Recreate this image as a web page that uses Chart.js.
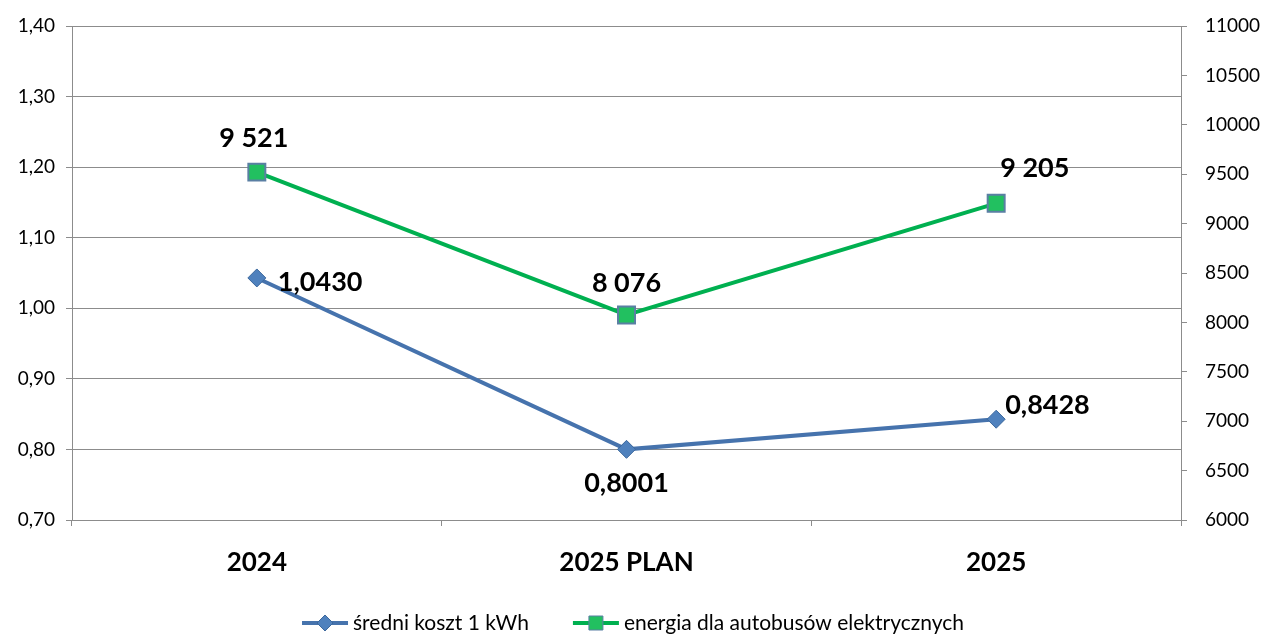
<!DOCTYPE html>
<html>
<head>
<meta charset="utf-8">
<script src="https://cdn.jsdelivr.net/npm/chart.js@4"></script>
<style>
  html, body { margin: 0; padding: 0; background: #ffffff; }
  #wrap { width: 1266px; height: 635px; }
</style>
</head>
<body>
<div id="wrap"><canvas id="myChart" width="1266" height="635"></canvas></div>
<script>
// chart data
const categories = ['2024', '2025 PLAN', '2025'];
const kosztLabel = 'średni koszt 1 kWh';
const kosztValues = [1.0430, 0.8001, 0.8428];
const energiaLabel = 'energia dla autobusów elektrycznych';
const energiaValues = [9521, 8076, 9205];

const FONT = 'Lato, "Open Sans", sans-serif';
const GRID = '#8c8c8c';
const BLUE_LINE = '#4673ad';
const BLUE_MARK = '#4f81bd';
const GREEN_LINE = '#00b050';
const GREEN_MARK = '#22c060';
const GREEN_BORDER = '#5a7fa3';

// number formatting in Polish style
function fmtKoszt(v) { return v.toFixed(4).replace('.', ','); }
function fmtEnergia(v) { return String(Math.round(v)).replace(/\B(?=(\d{3})+(?!\d))/g, ' '); }

// label placement per point: dx, dy from the marker, text alignment
const labelPlacement = [
    [ {dx: 21, dy: 4, align: 'left'}, {dx: 0, dy: 34, align: 'center'}, {dx: 9, dy: -14, align: 'left'} ],
    [ {dx: -3, dy: -34, align: 'center'}, {dx: 0, dy: -32, align: 'center'}, {dx: 4, dy: -35, align: 'left'} ]
];

const valueLabels = {
    id: 'valueLabels',
    afterDatasetsDraw(chart) {
        const ctx = chart.ctx;
        ctx.save();
        ctx.font = 'bold 27px ' + FONT;
        ctx.fillStyle = '#000000';
        ctx.textBaseline = 'middle';
        chart.data.datasets.forEach((ds, di) => {
            const meta = chart.getDatasetMeta(di);
            meta.data.forEach((pt, i) => {
                const p = labelPlacement[di][i];
                const txt = di === 0 ? fmtKoszt(ds.data[i]) : fmtEnergia(ds.data[i]);
                ctx.textAlign = p.align;
                ctx.fillText(txt, pt.x + p.dx, pt.y + p.dy);
            });
        });
        ctx.restore();
    }
};

// legend drawn like the office one: line with marker, then text
const bottomLegend = {
    id: 'bottomLegend',
    afterDraw(chart) {
        const ctx = chart.ctx;
        const y = 623;
        ctx.save();
        ctx.font = '21px ' + FONT;
        ctx.textBaseline = 'middle';
        ctx.textAlign = 'left';
        const items = chart.data.datasets;
        const sampleW = 46, gap = 5, between = 44;
        let widths = items.map(ds => sampleW + gap + ctx.measureText(ds.label).width);
        let total = widths.reduce((a, b) => a + b, 0) + between * (items.length - 1);
        let x = (chart.width - total) / 2;
        items.forEach((ds, i) => {
            ctx.strokeStyle = ds.borderColor;
            ctx.lineWidth = 4;
            ctx.beginPath();
            ctx.moveTo(x, y);
            ctx.lineTo(x + sampleW, y);
            ctx.stroke();
            const cx = x + sampleW / 2;
            ctx.fillStyle = ds.pointBackgroundColor;
            ctx.strokeStyle = ds.pointBorderColor;
            ctx.lineWidth = 1;
            ctx.beginPath();
            if (ds.pointStyle === 'rectRot') {
                ctx.moveTo(cx, y - 8); ctx.lineTo(cx + 8, y); ctx.lineTo(cx, y + 8); ctx.lineTo(cx - 8, y);
                ctx.closePath();
            } else {
                ctx.rect(cx - 7, y - 7, 14, 14);
            }
            ctx.fill();
            ctx.stroke();
            ctx.fillStyle = '#000000';
            ctx.fillText(ds.label, x + sampleW + gap, y);
            x += widths[i] + between;
        });
        ctx.restore();
    }
};

// y axes: fixed width, no extra overhang padding
function fixY(width) {
    return function (scale) {
        scale.width = width;
        scale.paddingTop = 0;
        scale.paddingBottom = 0;
    };
}

const ctx = document.getElementById('myChart').getContext('2d');
const myChart = new Chart(ctx, {
    type: 'line',
    data: {
        labels: categories,
        datasets: [
            {
                label: kosztLabel,
                data: kosztValues,
                yAxisID: 'y',
                borderColor: BLUE_LINE,
                borderWidth: 4,
                pointStyle: 'rectRot',
                pointRadius: 9,
                pointBackgroundColor: BLUE_MARK,
                pointBorderColor: '#3b679c',
                pointBorderWidth: 1,
                tension: 0,
                fill: false
            },
            {
                label: energiaLabel,
                data: energiaValues,
                yAxisID: 'y2',
                borderColor: GREEN_LINE,
                borderWidth: 4,
                pointStyle: 'rect',
                pointRadius: 12,
                pointBackgroundColor: GREEN_MARK,
                pointBorderColor: GREEN_BORDER,
                pointBorderWidth: 2,
                tension: 0,
                fill: false
            }
        ]
    },
    options: {
        responsive: false,
        animation: false,
        layout: { padding: { top: 26, bottom: 55, left: 0, right: 0 } },
        plugins: {
            legend: { display: false },
            tooltip: { enabled: false }
        },
        scales: {
            x: {
                offset: true,
                grid: { offset: true, drawOnChartArea: false, drawTicks: true, tickLength: 6, color: GRID },
                border: { color: GRID, width: 1 },
                ticks: { color: '#000000', font: { family: FONT, size: 26, weight: 'bold' }, padding: 21 },
                afterFit(scale) { scale.height = 60; }
            },
            y: {
                position: 'left',
                min: 0.7,
                max: 1.4,
                grid: { color: GRID, lineWidth: 1, tickLength: 6 },
                border: { color: GRID, width: 1 },
                ticks: {
                    stepSize: 0.1,
                    color: '#000000',
                    font: { family: FONT, size: 19 },
                    padding: 11,
                    callback: v => v.toFixed(2).replace('.', ',')
                },
                afterFit: fixY(72)
            },
            y2: {
                position: 'right',
                min: 6000,
                max: 11000,
                grid: { drawOnChartArea: false, tickLength: 6, color: GRID },
                border: { color: GRID, width: 1 },
                ticks: {
                    stepSize: 500,
                    color: '#000000',
                    font: { family: FONT, size: 19 },
                    padding: 18,
                    callback: v => String(v)
                },
                afterFit: fixY(85)
            }
        }
    },
    plugins: [valueLabels, bottomLegend]
});
</script>
</body>
</html>
